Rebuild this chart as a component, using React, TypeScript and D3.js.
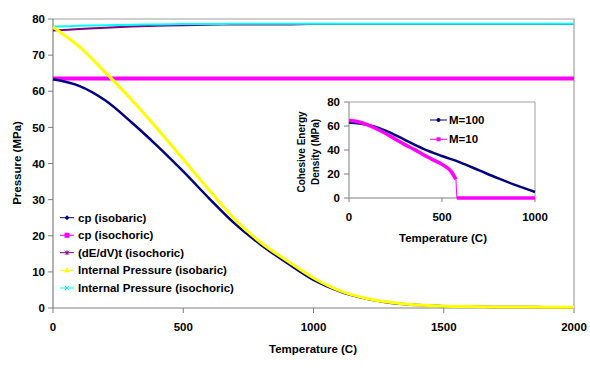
import React from 'react'
import * as d3 from 'd3'

// main chart data (MPa vs temperature C)
const temps = [0, 100, 200, 300, 400, 500, 600, 700, 800, 900, 1000, 1100, 1200, 1300, 1400, 1500, 1600, 1700, 1800, 1900, 2000]
const cpIsobaric = [63.3, 61.5, 57.5, 51.5, 44.9, 37.8, 30.3, 23.2, 17.4, 12.4, 7.8, 4.6, 2.6, 1.4, 0.8, 0.5, 0.4, 0.3, 0.3, 0.2, 0.2]
const cpIsochoric = [63.5, 63.5, 63.5, 63.5, 63.5, 63.5, 63.5, 63.5, 63.5, 63.5, 63.5, 63.5, 63.5, 63.5, 63.5, 63.5, 63.5, 63.5, 63.5, 63.5, 63.5]
const dEdV = [76.8, 77.2, 77.6, 77.9, 78.1, 78.3, 78.4, 78.5, 78.5, 78.5, 78.6, 78.6, 78.6, 78.6, 78.6, 78.6, 78.6, 78.6, 78.6, 78.6, 78.6]
const ipIsobaric = [77.8, 72.4, 65.3, 57.8, 49.7, 41.2, 32.6, 24.4, 18.0, 13.0, 8.3, 4.8, 2.7, 1.5, 0.8, 0.5, 0.4, 0.3, 0.3, 0.2, 0.2]
const ipIsochoric = [77.9, 78.1, 78.3, 78.4, 78.5, 78.6, 78.6, 78.7, 78.7, 78.7, 78.7, 78.7, 78.7, 78.7, 78.7, 78.7, 78.7, 78.7, 78.7, 78.7, 78.7]
const xTicks = [0, 500, 1000, 1500, 2000]
const yTicks = [0, 10, 20, 30, 40, 50, 60, 70, 80]

// inset data
const insetTemps100 = [0, 100, 200, 300, 400, 500, 600, 700, 800, 900, 1000]
const m100 = [63, 61, 56, 48.5, 41, 35, 29.5, 23, 16.5, 10.5, 5]
const insetTemps10 = [0, 50, 100, 150, 200, 250, 300, 350, 400, 450, 500, 550, 575]
const m10 = [64.5, 63.5, 61, 57.5, 53.5, 49, 44.5, 40.5, 36, 32, 28, 22, 15.5]
const m10FlatTemps = [580, 1000]
const m10Flat = [0, 0]
const insetXTicks = [0, 500, 1000]
const insetYTicks = [0, 20, 40, 60, 80]

const seriesNames = ['cp (isobaric)', 'cp (isochoric)', '(dE/dV)t (isochoric)', 'Internal Pressure (isobaric)', 'Internal Pressure (isochoric)']
const seriesColors = ['#000080', '#ff00ff', '#800080', '#ffff00', '#00ffff']
const seriesWidths = [2.5, 4, 2, 3, 2]

const FONT = 'Liberation Sans, Arial, sans-serif'
const AXIS = '#808080'

export default function App() {
  const W = 590, H = 376
  const x = d3.scaleLinear().domain([0, 2000]).range([53, 574])
  const y = d3.scaleLinear().domain([0, 80]).range([308, 19])

  const ix = d3.scaleLinear().domain([0, 1000]).range([349, 535])
  const iy = d3.scaleLinear().domain([0, 80]).range([198, 102])

  const mainLine = d3.line<number>().x((d, i) => x(temps[i])).y(d => y(d)).curve(d3.curveCatmullRom.alpha(0.5))
  const series = [cpIsobaric, cpIsochoric, dEdV, ipIsobaric, ipIsochoric]
  // draw order: magenta under, yellow on top of navy
  const order = [1, 2, 4, 0, 3]

  const lineOf = (xs: number[], ys: number[]) =>
    d3.line<number>().x((d, i) => ix(xs[i])).y(d => iy(d)).curve(d3.curveMonotoneX)(ys) || ''

  const legendY = [217.7, 235.3, 252.7, 270.3, 288]

  const marker = (i: number, cx: number, cy: number) => {
    const c = seriesColors[i]
    if (i === 0) return <path d={`M${cx},${cy - 2.5}L${cx + 2.5},${cy}L${cx},${cy + 2.5}L${cx - 2.5},${cy}Z`} fill={c} />
    if (i === 1) return <rect x={cx - 2.5} y={cy - 2.5} width={5} height={5} fill={c} />
    if (i === 2) return <path d={`M${cx - 2},${cy - 2}L${cx + 2},${cy + 2}M${cx - 2},${cy + 2}L${cx + 2},${cy - 2}M${cx},${cy - 2.5}L${cx},${cy + 2.5}`} stroke={c} strokeWidth={1} />
    if (i === 3) return <path d={`M${cx},${cy - 3}L${cx + 3},${cy + 2}L${cx - 3},${cy + 2}Z`} fill={c} />
    return <path d={`M${cx - 2},${cy - 2}L${cx + 2},${cy + 2}M${cx - 2},${cy + 2}L${cx + 2},${cy - 2}`} stroke={c} strokeWidth={1} />
  }

  return (
    <svg width={W} height={H} style={{ position: 'absolute', left: 0, top: 0, background: '#fff' }} fontFamily={FONT}>
      <rect width={W} height={H} fill="#fff" />
      {/* plot frame */}
      <path d={`M53,19H574V308`} fill="none" stroke="#a0a0a0" strokeWidth={1.2} />
      {/* axes */}
      <line x1={53} x2={53} y1={19} y2={308} stroke={AXIS} strokeWidth={1.2} />
      <line x1={53} x2={574} y1={308} y2={308} stroke={AXIS} strokeWidth={1.2} />
      {yTicks.map(t => (
        <g key={'y' + t}>
          <line x1={48} x2={53} y1={y(t)} y2={y(t)} stroke={AXIS} />
          <text x={45} y={y(t)} dy="0.36em" textAnchor="end" fontSize={11.5} fontWeight="bold" fill="#000">{t}</text>
        </g>
      ))}
      {xTicks.map(t => (
        <g key={'x' + t}>
          <line x1={x(t)} x2={x(t)} y1={308} y2={313} stroke={AXIS} />
          <text x={x(t)} y={327} dy="0.36em" textAnchor="middle" fontSize={11.5} fontWeight="bold" fill="#000">{t}</text>
        </g>
      ))}
      <text x={313} y={349} dy="0.36em" textAnchor="middle" fontSize={11.5} fontWeight="bold">Temperature (C)</text>
      <text transform="translate(17,163) rotate(-90)" dy="0.36em" textAnchor="middle" fontSize={11.5} fontWeight="bold">Pressure (MPa)</text>

      {/* series */}
      {order.map(i => (
        <path key={i} d={mainLine(series[i]) || ''} fill="none" stroke={seriesColors[i]} strokeWidth={seriesWidths[i]} strokeLinejoin="round" />
      ))}

      {/* legend */}
      {seriesNames.map((n, i) => (
        <g key={n}>
          <line x1={60} x2={74} y1={legendY[i]} y2={legendY[i]} stroke={seriesColors[i]} strokeWidth={1} />
          {marker(i, 67, legendY[i])}
          <text x={78} y={legendY[i]} dy="0.36em" fontSize={11.5} fontWeight="bold">{n}</text>
        </g>
      ))}

      {/* inset */}
      <path d={`M349,102H535V198`} fill="none" stroke="#a0a0a0" strokeWidth={1} />
      <line x1={349} x2={349} y1={102} y2={198} stroke={AXIS} />
      <line x1={349} x2={535} y1={198} y2={198} stroke={AXIS} />
      {insetYTicks.map(t => (
        <g key={'iy' + t}>
          <line x1={344} x2={349} y1={iy(t)} y2={iy(t)} stroke={AXIS} />
          <text x={340} y={iy(t)} dy="0.36em" textAnchor="end" fontSize={11.5} fontWeight="bold">{t}</text>
        </g>
      ))}
      {insetXTicks.map(t => (
        <g key={'ix' + t}>
          <line x1={ix(t)} x2={ix(t)} y1={198} y2={202} stroke={AXIS} />
          <text x={ix(t)} y={217} dy="0.36em" textAnchor="middle" fontSize={11.5} fontWeight="bold">{t}</text>
        </g>
      ))}
      <text x={443} y={238} dy="0.36em" textAnchor="middle" fontSize={11.5} fontWeight="bold">Temperature (C)</text>
      <text transform="translate(301,152) rotate(-90)" dy="0.36em" textAnchor="middle" fontSize={10} fontWeight="bold">Cohesive Energy</text>
      <text transform="translate(315,152) rotate(-90)" dy="0.36em" textAnchor="middle" fontSize={10} fontWeight="bold">Density (MPa)</text>

      <path d={lineOf(insetTemps100, m100)} fill="none" stroke="#000080" strokeWidth={2.5} />
      <path d={lineOf(insetTemps10, m10)} fill="none" stroke="#ff00ff" strokeWidth={3.5} />
      <line x1={ix(insetTemps10[insetTemps10.length - 1])} x2={ix(m10FlatTemps[0])} y1={iy(m10[m10.length - 1])} y2={iy(m10Flat[0])} stroke="#ff00ff" strokeWidth={1} />
      <path d={lineOf(m10FlatTemps, m10Flat)} fill="none" stroke="#ff00ff" strokeWidth={3.5} />

      <line x1={430} x2={447} y1={120} y2={120} stroke="#000080" strokeWidth={1} />
      <circle cx={438.5} cy={120} r={2} fill="#000080" />
      <text x={449} y={120} dy="0.36em" fontSize={11.5} fontWeight="bold">M=100</text>
      <line x1={430} x2={447} y1={139.3} y2={139.3} stroke="#ff00ff" strokeWidth={1} />
      <rect x={436.5} y={137.3} width={4} height={4} fill="#ff00ff" />
      <text x={449} y={139.3} dy="0.36em" fontSize={11.5} fontWeight="bold">M=10</text>
    </svg>
  )
}
